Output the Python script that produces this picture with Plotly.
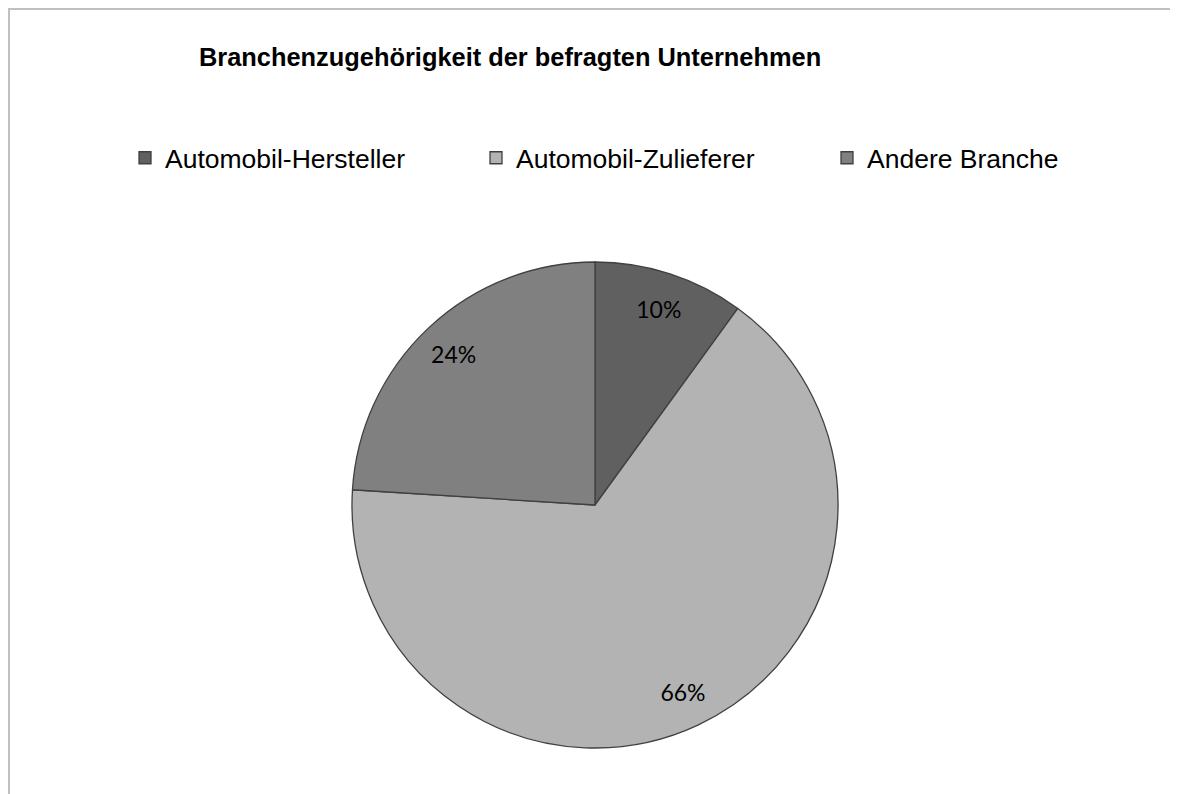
import plotly.graph_objects as go

# Data
branchen = ["Automobil-Hersteller", "Automobil-Zulieferer", "Andere Branche"]
anteile = [10, 66, 24]
farben = ["#606060", "#b3b3b3", "#808080"]

# page has an 8px body margin, so the figure is 8px smaller than the window
W, H = 1170, 786
OFF = 8


def px_x(p):
    return (p - OFF) / W


def px_y(p):
    return 1 - (p - OFF) / H


pie_domain = dict(x=[px_x(352), px_x(838)], y=[px_y(748), px_y(262)])

fig = go.Figure()

# filled slices
fig.add_trace(
    go.Pie(
        labels=branchen,
        values=anteile,
        sort=False,
        direction="clockwise",
        rotation=0,
        marker=dict(colors=farben, line=dict(color="#404040", width=1.3)),
        textinfo="none",
        domain=pie_domain,
        hoverinfo="label+percent",
    )
)

# transparent ring on top only to carry the percentage labels near the rim
fig.add_trace(
    go.Pie(
        labels=branchen,
        values=anteile,
        sort=False,
        direction="clockwise",
        rotation=0,
        hole=0.7,
        marker=dict(colors=["rgba(0,0,0,0)"] * 3, line=dict(width=0)),
        texttemplate="%{percent:.0%}",
        textposition="inside",
        insidetextorientation="horizontal",
        textfont=dict(family="Lato, Open Sans, sans-serif", size=23, color="#000000"),
        domain=pie_domain,
        showlegend=False,
        hoverinfo="skip",
    )
)

fig.update_layout(
    width=W,
    height=H,
    margin=dict(l=0, r=0, t=0, b=0),
    paper_bgcolor="white",
    plot_bgcolor="white",
    showlegend=True,
    legend=dict(
        orientation="h",
        x=px_x(125),
        y=px_y(134),
        xanchor="left",
        yanchor="top",
        itemwidth=30,
        entrywidth=306,
        entrywidthmode="pixels",
        font=dict(family="Liberation Sans, Arial, sans-serif", size=26.5, color="#000000"),
        bgcolor="rgba(0,0,0,0)",
    ),
    annotations=[
        dict(
            text="<b>Branchenzugehörigkeit der befragten Unternehmen</b>",
            x=px_x(197),
            y=px_y(57),
            xref="paper",
            yref="paper",
            xanchor="left",
            yanchor="middle",
            showarrow=False,
            font=dict(family="Liberation Sans, Arial, sans-serif", size=25.4, color="#000000"),
        )
    ],
    shapes=[
        # chart area border (top and left edges visible)
        dict(type="line", xref="paper", yref="paper", x0=0, x1=1, y0=1 - 1 / H, y1=1 - 1 / H,
             line=dict(color="#c0c0c0", width=2)),
        dict(type="line", xref="paper", yref="paper", x0=1 / W, x1=1 / W, y0=1, y1=0,
             line=dict(color="#c0c0c0", width=2)),
    ],
)

fig.write_html("out.html")
